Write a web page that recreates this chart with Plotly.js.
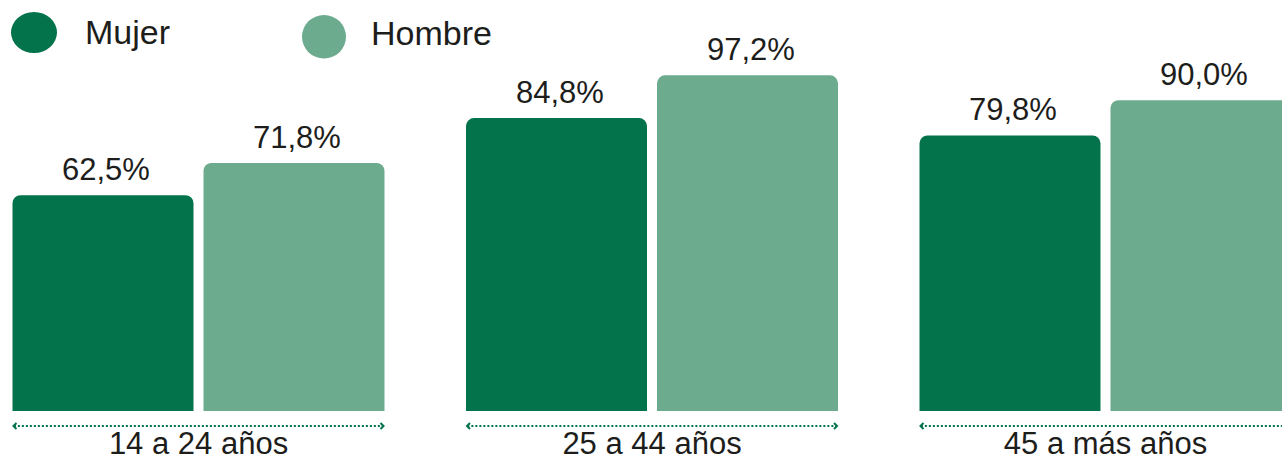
<!DOCTYPE html>
<html>
<head>
<meta charset="utf-8">
<script src="https://cdn.plot.ly/plotly-3.0.1.min.js"></script>
<style>html,body{margin:0;padding:0;background:#fff;}#chart{width:1282px;height:459px;}</style>
</head>
<body>
<div id="chart"></div>
<script>
// ---- data ----
const categories = ["14 a 24 años", "25 a 44 años", "45 a más años"];
const seriesNames = ["Mujer", "Hombre"];
const mujer = [62.5, 84.8, 79.8];
const hombre = [71.8, 97.2, 90.0];

// ---- style ----
const colors = {Mujer: "#02734B", Hombre: "#6CAB8E"};
const textColor = "#1d1d1b";
const font = "Liberation Sans, Arial, sans-serif";
const W = 1282, H = 459, plotBottom = 411;
const catPx = 453.5, firstCenterPx = 198.5;
const slotPx = 191, barGapPx = 10;

const fmt = v => v.toFixed(1).replace(".", ",") + "%";

const traces = [
  {type: "bar", name: "Mujer", x: categories, y: mujer, marker: {color: colors.Mujer}, showlegend: false, hoverinfo: "none"},
  {type: "bar", name: "Hombre", x: categories, y: hombre, marker: {color: colors.Hombre}, showlegend: false, hoverinfo: "none"}
];

const annotations = [];
const shapes = [];
[mujer, hombre].forEach((vals, si) => {
  vals.forEach((v, i) => {
    annotations.push({
      x: categories[i], y: v, xref: "x", yref: "y",
      xshift: (si === 0 ? -1 : 1) * slotPx / 2 + 3,
      yshift: 6,
      text: fmt(v), showarrow: false, yanchor: "bottom",
      font: {family: font, size: 31, color: textColor}
    });
  });
});

// dotted range lines with chevrons under each category
const half = (slotPx - barGapPx / 2) / catPx;
const lineY = (plotBottom - 426) / plotBottom;
categories.forEach((c, i) => {
  shapes.push({type: "line", xref: "x", yref: "paper", x0: i - half + 0.003, x1: i + half - 0.003, y0: lineY, y1: lineY,
    line: {color: colors.Mujer, width: 2, dash: "2px,2px"}});
  shapes.push({type: "path", xref: "x", yref: "paper", xsizemode: "pixel", ysizemode: "pixel",
    xanchor: i - half, yanchor: lineY,
    path: "M 4 3 L 1 0 L 4 -3", line: {color: colors.Mujer, width: 2}});
  shapes.push({type: "path", xref: "x", yref: "paper", xsizemode: "pixel", ysizemode: "pixel",
    xanchor: i + half, yanchor: lineY,
    path: "M -4 3 L -1 0 L -4 -3", line: {color: colors.Mujer, width: 2}});
});

// custom legend (large dots)
const py = p => (plotBottom - p) / plotBottom;
const px = p => p / W;
shapes.push({type: "circle", xref: "paper", yref: "paper", x0: px(11), x1: px(57), y0: py(53), y1: py(12),
  fillcolor: colors.Mujer, line: {width: 0}});
shapes.push({type: "circle", xref: "paper", yref: "paper", x0: px(302), x1: px(346), y0: py(58.5), y1: py(15),
  fillcolor: colors.Hombre, line: {width: 0}});
annotations.push({xref: "paper", yref: "paper", x: px(83), y: py(32), xanchor: "left", yanchor: "middle",
  text: seriesNames[0], showarrow: false, font: {family: font, size: 34, color: textColor}});
annotations.push({xref: "paper", yref: "paper", x: px(369), y: py(33), xanchor: "left", yanchor: "middle",
  text: seriesNames[1], showarrow: false, font: {family: font, size: 34, color: textColor}});

const r0 = -firstCenterPx / catPx;
const layout = {
  width: W, height: H,
  margin: {l: 0, r: 0, t: 0, b: H - plotBottom, pad: 0},
  paper_bgcolor: "#ffffff", plot_bgcolor: "#ffffff",
  barmode: "group",
  bargap: 1 - 2 * slotPx / catPx,
  bargroupgap: barGapPx / slotPx,
  barcornerradius: 8,
  xaxis: {type: "category", range: [r0, r0 + W / catPx], showgrid: false, zeroline: false, showline: false,
    ticks: "", ticklabelstandoff: 11, tickfont: {family: font, size: 31, color: textColor}, fixedrange: true},
  yaxis: {range: [0, 119], visible: false, showgrid: false, zeroline: false, fixedrange: true},
  showlegend: false,
  annotations: annotations,
  shapes: shapes,
  font: {family: font}
};

Plotly.newPlot("chart", traces, layout, {staticPlot: true, displayModeBar: false});
</script>
</body>
</html>
